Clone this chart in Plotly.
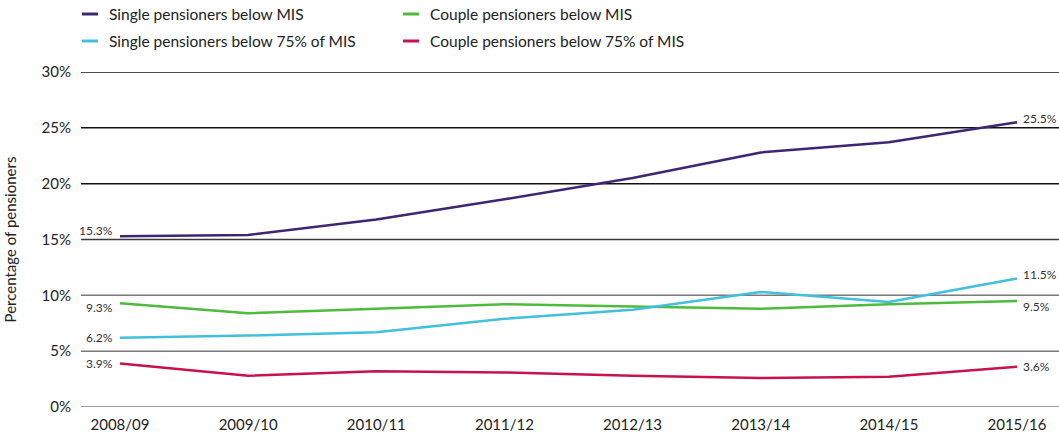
import plotly.graph_objects as go

years = ["2008/09", "2009/10", "2010/11", "2011/12", "2012/13", "2013/14", "2014/15", "2015/16"]
single_mis = [15.3, 15.4, 16.8, 18.6, 20.5, 22.8, 23.7, 25.5]
couple_mis = [9.3, 8.4, 8.8, 9.2, 9.0, 8.8, 9.2, 9.5]
single_75 = [6.2, 6.4, 6.7, 7.9, 8.7, 10.3, 9.4, 11.5]
couple_75 = [3.9, 2.8, 3.2, 3.1, 2.8, 2.6, 2.7, 3.6]
y_ticks = [0, 5, 10, 15, 20, 25, 30]

series = [
    ("Single pensioners below MIS", single_mis, "#3d2674", 6, 4),
    ("Couple pensioners below MIS", couple_mis, "#4dbb3c", -4, -6),
    ("Single pensioners below 75% of MIS", single_75, "#41c0de", 0, 4),
    ("Couple pensioners below 75% of MIS", couple_75, "#c8124c", 0, 0),
]

# plot area geometry (pixels)
L, R, T, B = 81, 0, 72, 27
W, H = 1059, 434
pw, ph = W - L - R, H - T - B

fig = go.Figure()
annotations = []
shapes = []

# gridlines
grid_colors = {0: "#7a7a7a", 5: "#7a7a7a", 10: "#7a7a7a", 15: "#3a3a3a", 20: "#111111", 25: "#111111", 30: "#111111"}
for v in y_ticks:
    shapes.append(dict(type="line", xref="paper", yref="y", x0=0, x1=1, y0=v, y1=v,
                       line=dict(color=grid_colors[v], width=1.5), layer="below"))

for name, vals, color, sh0, sh1 in series:
    fig.add_trace(go.Scatter(x=list(range(len(years))), y=vals, mode="lines", name=name,
                             line=dict(color=color, width=2.5), showlegend=False,
                             hoverinfo="x+y"))
    annotations.append(dict(x=0, y=vals[0], xref="x", yref="y", text=f"{vals[0]:.1f}%",
                            showarrow=False, xanchor="right", xshift=-5, yshift=sh0,
                            font=dict(family="Lato", size=12, color="#333333")))
    annotations.append(dict(x=len(years) - 1, y=vals[-1], xref="x", yref="y", text=f"{vals[-1]:.1f}%",
                            showarrow=False, xanchor="left", xshift=4, yshift=sh1,
                            font=dict(family="Lato", size=12, color="#333333")))

# manual legend
legend_pos = [(82, 14), (403, 14), (82, 41), (403, 41)]
for (name, vals, color, _, _), (lx, ly) in zip(series, legend_pos):
    x0 = (lx - L) / pw
    x1 = (lx + 16 - L) / pw
    yy = (H - B - ly) / ph
    shapes.append(dict(type="line", xref="paper", yref="paper", x0=x0, x1=x1, y0=yy, y1=yy,
                       line=dict(color=color, width=3)))
    annotations.append(dict(x=(lx + 25 - L) / pw, y=yy, xref="paper", yref="paper", text=name,
                            showarrow=False, xanchor="left", yanchor="middle",
                            font=dict(family="Lato", size=15.5, color="#222222")))

x0_px, x7_px = 120, 1017
unit = (x7_px - x0_px) / (len(years) - 1)
xr = [(L - x0_px) / unit, (W - R - x0_px) / unit]

fig.update_layout(
    width=W, height=H,
    margin=dict(l=L, r=R, t=T, b=B),
    paper_bgcolor="white", plot_bgcolor="white",
    shapes=shapes, annotations=annotations,
    font=dict(family="Lato", color="#222222"),
    xaxis=dict(range=xr, tickmode="array", tickvals=list(range(len(years))), ticktext=years,
               showgrid=False, zeroline=False, showline=False,
               tickfont=dict(family="Lato", size=15, color="#222222"), ticks="", ticklabelstandoff=7),
    yaxis=dict(range=[0, 30], tickmode="array", tickvals=y_ticks, ticktext=[f"{v}%" for v in y_ticks],
               showgrid=False, zeroline=False, showline=False, ticks="",
               tickfont=dict(family="Lato", size=15, color="#222222"), ticklabelstandoff=9,
               title=dict(text="Percentage of pensioners", font=dict(family="Lato", size=15, color="#222222"),
                          standoff=21)),
)

fig.write_html("out.html", config={"displayModeBar": False},
               post_script="document.body.style.margin='0';document.body.style.overflow='hidden';")
